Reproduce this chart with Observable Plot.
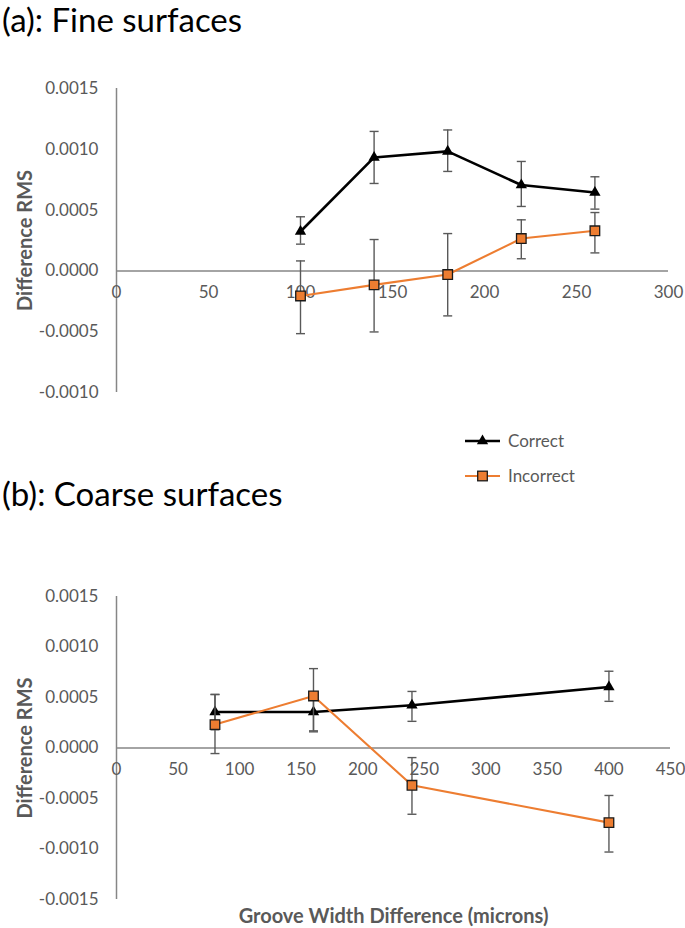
<!DOCTYPE html>
<html>
<head>
<meta charset="utf-8">
<script src="https://cdn.jsdelivr.net/npm/d3@7"></script>
<script src="https://cdn.jsdelivr.net/npm/@observablehq/plot@0.6"></script>
<style>
  html, body { margin: 0; padding: 0; background: #fff; }
  body { width: 685px; height: 928px; position: relative; overflow: hidden; font-family: Lato, "Open Sans", sans-serif; }
  .title { position: absolute; left: 2px; font-size: 33px; color: #000; white-space: nowrap; line-height: 1; }
  .panel { position: absolute; left: 0; }
  #legend { position: absolute; left: 455px; top: 425px; }
</style>
</head>
<body>
<div class="title" id="titleA" style="top:3px;">(a): Fine surfaces</div>
<div class="title" id="titleB" style="top:477px;">(b): Coarse surfaces</div>
<div class="panel" id="panelA" style="top:0px;"></div>
<div class="panel" id="panelB" style="top:500px;"></div>
<svg id="legend" width="140" height="70"></svg>
<script>
// ---- Data: panel (a) Fine surfaces ----
const xA = [100, 140, 180, 220, 260];
const correctA = [0.000324, 0.000933, 0.000983, 0.000706, 0.000645];
const correctALo = [0.00022, 0.000719, 0.000818, 0.00053, 0.000508];
const correctAHi = [0.000445, 0.001147, 0.001159, 0.0009, 0.000774];
const incorrectA = [-0.000206, -0.000115, -0.00003, 0.000266, 0.00033];
const incorrectALo = [-0.000516, -0.000502, -0.00037, 0.0001, 0.000148];
const incorrectAHi = [0.000082, 0.000258, 0.000307, 0.00042, 0.00048];
const xTicksA = [0, 50, 100, 150, 200, 250, 300];
const yTicksA = [-0.0010, -0.0005, 0.0000, 0.0005, 0.0010, 0.0015];

// ---- Data: panel (b) Coarse surfaces ----
const xB = [80, 160, 240, 400];
const correctB = [0.000356, 0.000356, 0.000423, 0.000604];
const correctBLo = [0.00018, 0.00017, 0.000264, 0.000462];
const correctBHi = [0.00053, 0.00054, 0.00056, 0.00076];
const incorrectB = [0.000232, 0.000515, -0.000369, -0.000739];
const incorrectBLo = [-0.000055, 0.00016, -0.000656, -0.00103];
const incorrectBHi = [0.00053, 0.000786, -0.000095, -0.00047];
const xTicksB = [0, 50, 100, 150, 200, 250, 300, 350, 400, 450];
const yTicksB = [-0.0015, -0.0010, -0.0005, 0.0000, 0.0005, 0.0010, 0.0015];

const seriesNames = ["Correct", "Incorrect"];
const yTitle = "Difference RMS";
const xTitle = "Groove Width Difference (microns)";

const BLACK = "#000000";
const ORANGE = "#ED7D31";
const GRAY_TEXT = "#595959";
const GRAY_AXIS = "#868686";
const GRAY_ERR = "#595959";
const FONT = "Lato, 'Open Sans', sans-serif";

const capSymbol = {
  draw(context, size) {
    const w = 4.5;
    context.moveTo(-w, 0);
    context.lineTo(w, 0);
  }
};

function rows(xs, ys, lo, hi) {
  return xs.map((x, i) => ({x, y: ys[i], lo: lo[i], hi: hi[i]}));
}

function seriesMarks(data, kind) {
  const isCorrect = kind === "Correct";
  return [
    Plot.ruleX(data, {x: "x", y1: "lo", y2: "hi", stroke: GRAY_ERR, strokeWidth: 1.4}),
    Plot.dot(data, {x: "x", y: "lo", symbol: capSymbol, r: 3, stroke: GRAY_ERR, strokeWidth: 1.4, fill: "none"}),
    Plot.dot(data, {x: "x", y: "hi", symbol: capSymbol, r: 3, stroke: GRAY_ERR, strokeWidth: 1.4, fill: "none"}),
    Plot.line(data, {x: "x", y: "y", stroke: isCorrect ? BLACK : ORANGE, strokeWidth: isCorrect ? 2.6 : 2.1}),
    isCorrect
      ? Plot.dot(data, {x: "x", y: "y", symbol: "triangle", r: 4.2, fill: BLACK, stroke: "none"})
      : Plot.dot(data, {x: "x", y: "y", symbol: "square", r: 5.4, fill: ORANGE, stroke: "#1a1a1a", strokeWidth: 1.3})
  ];
}

function panel({xDomain, yDomain, xTicks, yTicks, height, marginTop, marginBottom, marginRight, correct, incorrect, showXTitle}) {
  return Plot.plot({
    width: 685,
    height,
    marginLeft: 116,
    marginRight,
    marginTop,
    marginBottom,
    style: {fontFamily: FONT, background: "transparent", overflow: "visible"},
    x: {domain: xDomain, axis: null},
    y: {domain: yDomain},
    marks: [
      Plot.axisY({ticks: yTicks, tickSize: 0, tickPadding: 18, tickFormat: d => d.toFixed(4), fill: GRAY_TEXT, fontSize: 17, label: null}),
      Plot.ruleX([0], {stroke: GRAY_AXIS, strokeWidth: 1.5}),
      Plot.ruleY([0], {stroke: GRAY_AXIS, strokeWidth: 1.5}),
      Plot.text(xTicks, {x: d => d, y: () => 0, dy: 22, text: d => String(d), fill: GRAY_TEXT, fontSize: 17}),
      Plot.text([yTitle], {frameAnchor: "left", textAnchor: "middle", lineAnchor: "middle", dx: -91, rotate: -90, fill: GRAY_TEXT, fontSize: 20, fontWeight: "bold"}),
      ...(showXTitle ? [Plot.text([xTitle], {frameAnchor: "bottom", textAnchor: "middle", lineAnchor: "middle", dy: 17, fill: GRAY_TEXT, fontSize: 20, fontWeight: "bold"})] : []),
      ...seriesMarks(correct, "Correct"),
      ...seriesMarks(incorrect, "Incorrect")
    ]
  });
}

document.getElementById("panelA").appendChild(panel({
  xDomain: [0, 300], yDomain: [-0.0010, 0.0015], xTicks: xTicksA, yTicks: yTicksA,
  height: 420, marginTop: 88, marginBottom: 28, marginRight: 17,
  correct: rows(xA, correctA, correctALo, correctAHi),
  incorrect: rows(xA, incorrectA, incorrectALo, incorrectAHi),
  showXTitle: false
}));

document.getElementById("panelB").appendChild(panel({
  xDomain: [0, 450], yDomain: [-0.0015, 0.0015], xTicks: xTicksB, yTicks: yTicksB,
  height: 428, marginTop: 96, marginBottom: 29, marginRight: 15,
  correct: rows(xB, correctB, correctBLo, correctBHi),
  incorrect: rows(xB, incorrectB, incorrectBLo, incorrectBHi),
  showXTitle: true
}));

// Legend
const leg = d3.select("#legend");
seriesNames.forEach((name, i) => {
  const y = 16 + i * 35;
  const g = leg.append("g");
  const isCorrect = name === "Correct";
  g.append("line").attr("x1", 10).attr("x2", 45).attr("y1", y).attr("y2", y)
    .attr("stroke", isCorrect ? BLACK : ORANGE).attr("stroke-width", isCorrect ? 2.6 : 2.1);
  if (isCorrect) {
    g.append("path").attr("d", d3.symbol(d3.symbolTriangle, Math.PI * 4.2 * 4.2)()).attr("transform", `translate(27.5,${y})`).attr("fill", BLACK);
  } else {
    g.append("rect").attr("x", 27.5 - 4.8).attr("y", y - 4.8).attr("width", 9.6).attr("height", 9.6)
      .attr("fill", ORANGE).attr("stroke", "#1a1a1a").attr("stroke-width", 1.3);
  }
  g.append("text").attr("x", 53).attr("y", y).attr("dy", "0.35em").attr("fill", GRAY_TEXT)
    .attr("font-size", 17).attr("font-family", FONT).text(name);
});
</script>
</body>
</html>
